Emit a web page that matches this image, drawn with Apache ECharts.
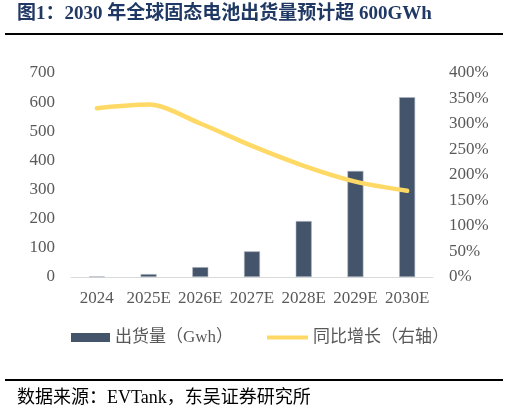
<!DOCTYPE html>
<html>
<head>
<meta charset="utf-8">
<script src="https://cdn.jsdelivr.net/npm/echarts@6/dist/echarts.min.js"></script>
<style>
  html, body { margin: 0; padding: 0; background: #fff; }
  #main { width: 509px; height: 413px; }
</style>
</head>
<body>
<div id="main"></div>
<script>
var years = ['2024', '2025E', '2026E', '2027E', '2028E', '2029E', '2030E'];
var shipments = [2, 10, 34, 88, 192, 364, 617];     // GWh
var growth = [331, 338, 301, 257, 218, 187, 169];    // %
var leftTicks = [0, 700, 100];
var rightTicks = [0, 400, 50];

var serif = '"Liberation Serif", "Times New Roman", "Noto Sans CJK SC", serif';
var chart = echarts.init(document.getElementById('main'));

var option = {
  animation: false,
  backgroundColor: '#fff',
  grid: { left: 71, right: 76, top: 73, bottom: 136 },
  graphic: [
    {
      type: 'text', left: 17, top: 5,
      style: { text: '图1：2030 年全球固态电池出货量预计超 600GWh', fill: '#1F3864',
        font: 'bold 19px ' + serif }
    },
    { type: 'rect', shape: { x: 5, y: 33, width: 498, height: 2 }, style: { fill: '#000' } },
    { type: 'rect', shape: { x: 5, y: 379, width: 498, height: 2 }, style: { fill: '#000' } },
    {
      type: 'text', left: 17, top: 389,
      style: { text: '数据来源：EVTank，东吴证券研究所', fill: '#000',
        font: '18px ' + serif }
    }
  ],
  legend: [
    {
      data: ['出货量（Gwh）'], left: 71, top: 329, padding: 0,
      itemWidth: 39, itemHeight: 9, itemGap: 10,
      icon: 'rect',
      itemStyle: { borderWidth: 0 },
      textStyle: { fontFamily: serif, fontSize: 17, color: '#595959' }
    },
    {
      data: ['同比增长（右轴）'], left: 267, top: 329, padding: 0,
      itemWidth: 41, itemHeight: 9,
      icon: 'path://M0,0 L41,0 L41,4 L0,4 Z',
      textStyle: { fontFamily: serif, fontSize: 17, color: '#595959' }
    }
  ],
  xAxis: {
    type: 'category',
    data: years,
    axisLine: { lineStyle: { color: '#D9D9D9', width: 1 } },
    axisTick: { show: false },
    axisLabel: { color: '#595959', fontFamily: serif, fontSize: 17, margin: 13, interval: 0 }
  },
  yAxis: [
    {
      type: 'value', min: leftTicks[0], max: leftTicks[1], interval: leftTicks[2],
      splitLine: { show: false },
      axisLabel: { color: '#595959', fontFamily: serif, fontSize: 17, margin: 16 }
    },
    {
      type: 'value', min: rightTicks[0], max: rightTicks[1], interval: rightTicks[2],
      splitLine: { show: false },
      axisLabel: { color: '#595959', fontFamily: serif, fontSize: 17, margin: 16, formatter: '{value}%' }
    }
  ],
  series: [
    {
      name: '出货量（Gwh）',
      type: 'bar',
      data: shipments,
      barWidth: 16,
      itemStyle: { color: '#44546A', borderColor: '#AEB6C2', borderWidth: 0.6 }
    },
    {
      name: '同比增长（右轴）',
      type: 'line',
      yAxisIndex: 1,
      data: growth,
      smooth: 0.3,
      showSymbol: false,
      symbol: 'none',
      lineStyle: { color: '#FFD966', width: 4.5, cap: 'round' },
      itemStyle: { color: '#FFD966' }
    }
  ]
};

option && chart.setOption(option);
</script>
</body>
</html>
